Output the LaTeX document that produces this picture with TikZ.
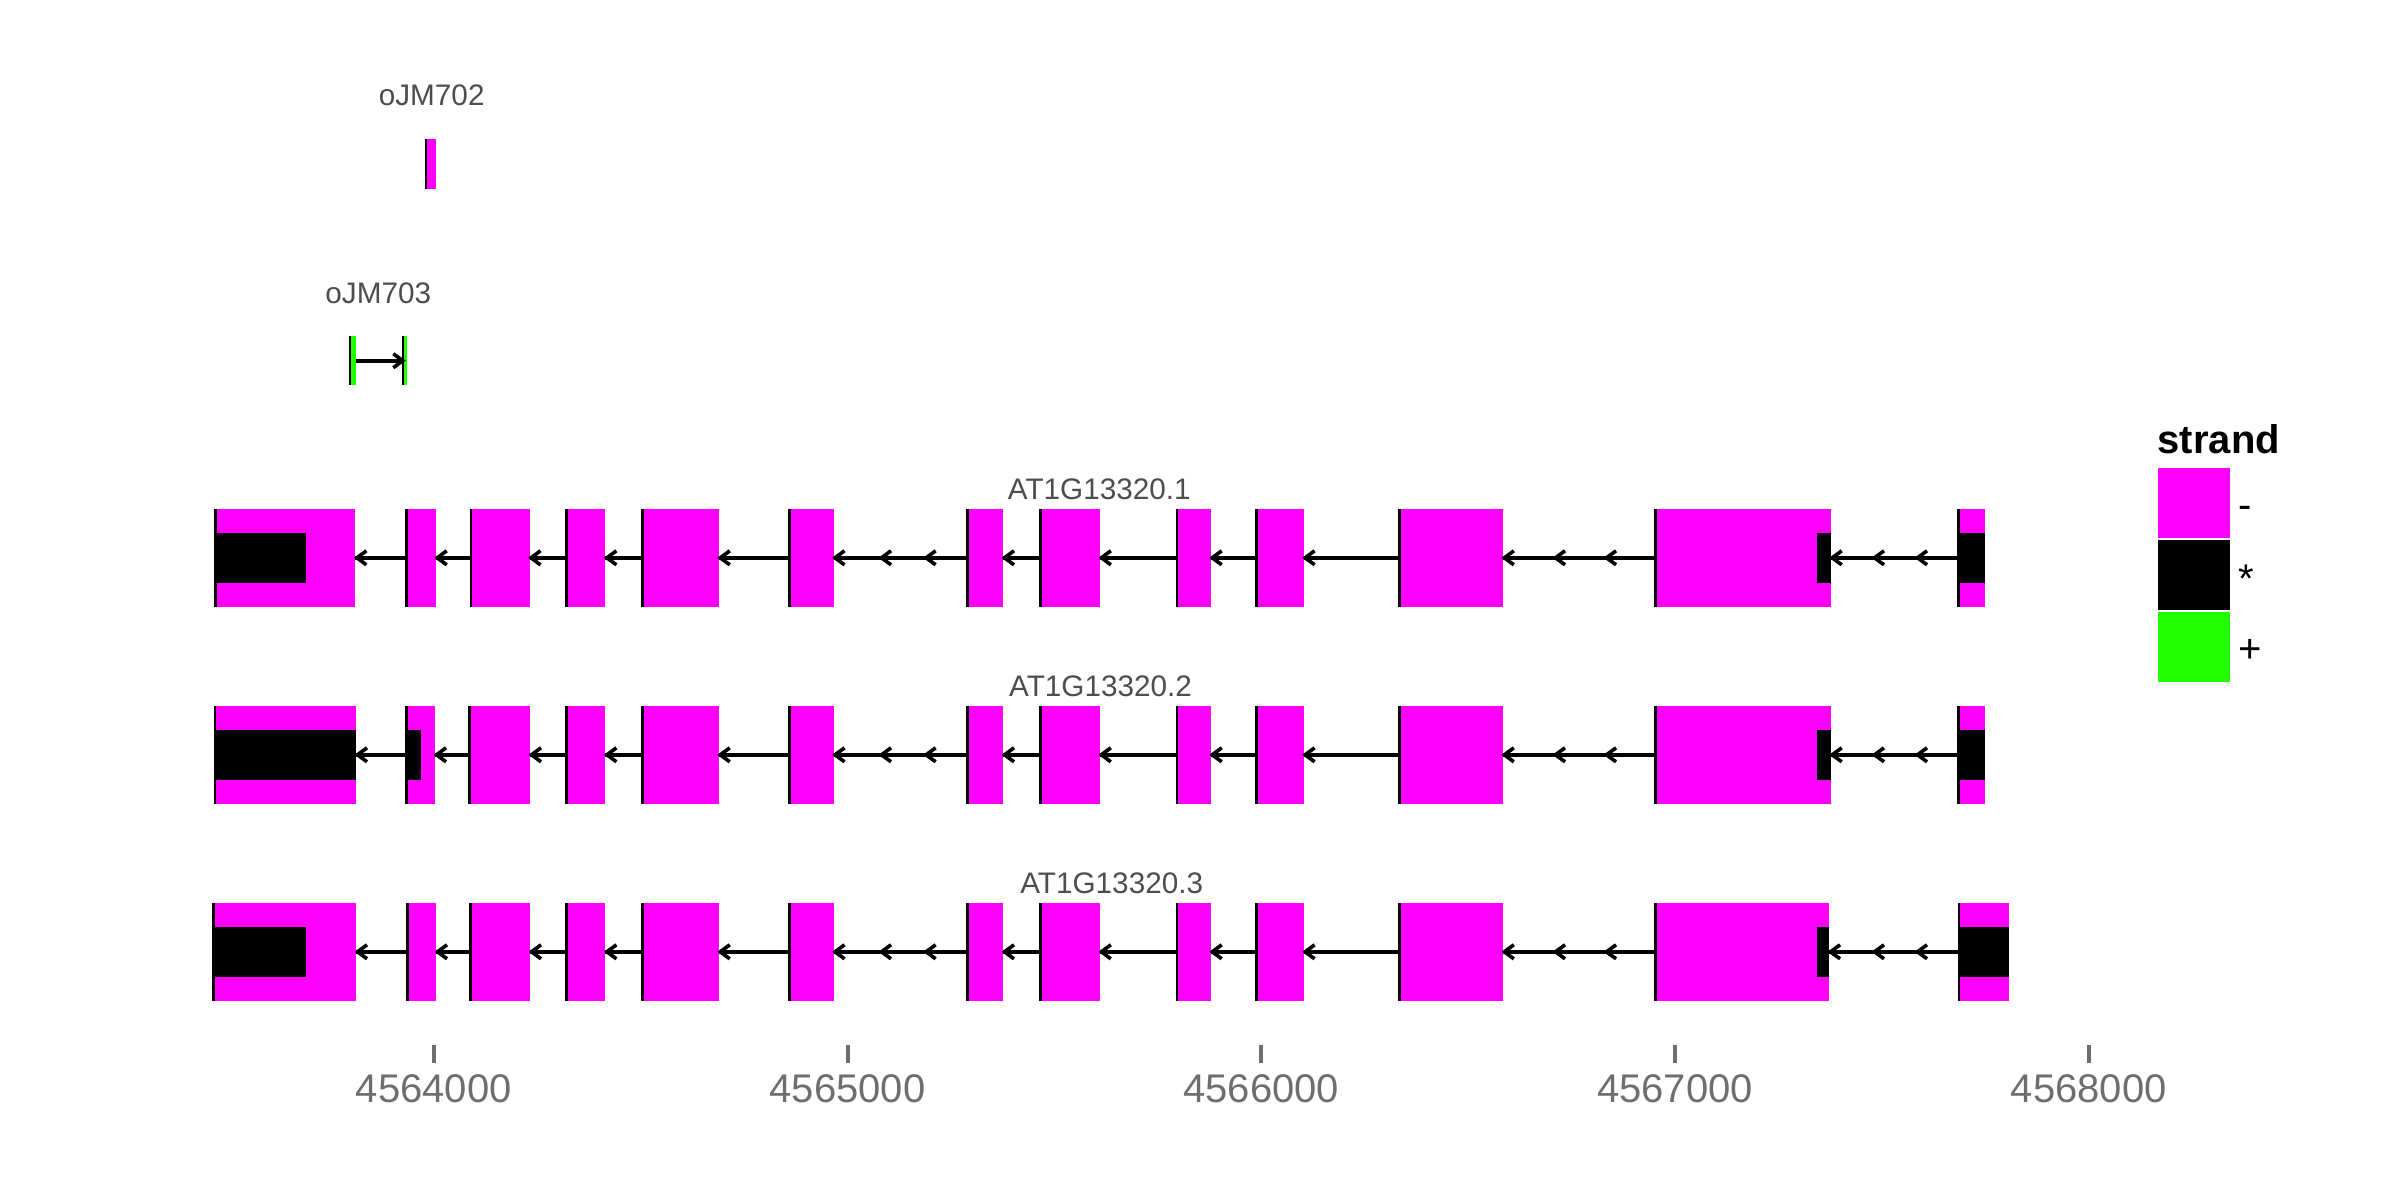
\documentclass[tikz,border=0pt]{standalone}
\usepackage{fontspec}
\setmainfont{Liberation Sans}
\definecolor{mag}{RGB}{255,0,255}
\definecolor{grn}{RGB}{34,255,0}
\definecolor{labgray}{RGB}{77,77,77}
\definecolor{axgray}{RGB}{110,110,110}
\tikzset{
  exon/.style={fill=mag, draw=none, inner sep=0pt, outer sep=0pt},
  cds/.style={fill=black, draw=none, inner sep=0pt, outer sep=0pt},
  pexon/.style={fill=grn, draw=none, inner sep=0pt, outer sep=0pt},
  intron/.style={line width=4pt, black},
  arrowhd/.style={line width=3.6pt, black, line join=miter, miter limit=2.5},
  edgeline/.style={line width=2.6pt, black},
  genelab/.style={font=\fontsize{29.7}{32}\selectfont, text=labgray, inner sep=0pt},
  axlab/.style={font=\fontsize{40}{44}\selectfont, text=axgray, inner sep=0pt},
  axtick/.style={line width=4pt, axgray},
  legtitle/.style={font=\bfseries\fontsize{40}{44}\selectfont, text=black, inner sep=0pt},
  leglab/.style={font=\fontsize{40}{44}\selectfont, text=black, inner sep=0pt},
  keybox/.style={draw=none, inner sep=0pt, outer sep=0pt, minimum width=72.3pt, minimum height=70pt}
}
% name, left, right, y-centre, height, style
\newcommand\mkbox[6]{%
  \pgfmathsetmacro\mkw{#3-#2}%
  \node[#6, minimum width=\mkw pt, minimum height=#5 pt, anchor=west] (#1) at (#2,#4) {};}
% open arrow heads with tip at a named coordinate
\newcommand\ahl[1]{\draw[arrowhd] ([shift={(11,-7)}]#1) -- ([xshift=1.5]#1) -- ([shift={(11,7)}]#1);}
\newcommand\ahr[1]{\draw[arrowhd] ([shift={(-11,-7)}]#1) -- ([xshift=-1.5]#1) -- ([shift={(-11,7)}]#1);}
% track number, y centre, exon list
\newcommand\drawtrack[3]{%
  \foreach \l/\r [count=\i] in {#3} {%
    \pgfmathsetmacro\mkw{\r-\l}%
    \node[exon, minimum width=\mkw pt, minimum height=97.7pt, anchor=west] (t#1e\i) at (\l,#2) {};
  }%
  \foreach \i [evaluate=\i as \j using int(\i+1)] in {1,...,12} {%
    \draw[intron] (t#1e\i.east) -- (t#1e\j.west);
  }%
}
\newcommand\trackmarks[2]{%
  \foreach \i in {1,...,12} {\ahl{t#1e\i.east}}%
  \foreach \x [count=\k] in {880,924.6,1554,1605,1873,1916} {%
    \coordinate (t#1a\k) at (\x,#2);
    \ahl{t#1a\k}
  }%
  \foreach \i in {1,...,13} {\draw[edgeline] (t#1e\i.north west) -- (t#1e\i.south west);}%
}
\begin{document}
\begin{tikzpicture}[x=1pt,y=-1pt]
\useasboundingbox (0,0) rectangle (2400,1200);

% ---------- oJM702 ----------
\node[genelab] (l702) at (431.7,95.5) {oJM702};
\mkbox{o702}{426}{436}{163.9}{49.7}{exon}
\draw[edgeline] (o702.north west) -- (o702.south west);

% ---------- oJM703 ----------
\node[genelab] (l703) at (378.3,293) {oJM703};
\mkbox{o703a}{349.8}{356}{360.7}{49.3}{pexon}
\mkbox{o703b}{402.8}{407}{360.7}{49.3}{pexon}
\draw[intron] (o703a.east) -- (o703b.west);
\coordinate (o703tip) at ([xshift=1.5]o703b.west);
\ahr{o703tip}
\draw[edgeline] (o703a.north west) -- (o703a.south west);
\draw[edgeline] (o703b.north west) -- (o703b.south west);

% ---------- transcripts ----------
\drawtrack{1}{557.8}{215.6/355.4, 406.3/435.7, 471/529.5, 566.5/605.4, 642.4/718.75, 789.7/833.5, 967.5/1003, 1040.5/1099.8, 1176.8/1210.7, 1256.6/1303.6, 1399.2/1502.8, 1655.5/1830.7, 1958.7/1985}
\drawtrack{2}{754.8}{215/356, 406.7/435, 469.3/530, 566.5/605.4, 642.4/718.75, 789.7/833.5, 967.5/1003, 1040.5/1099.8, 1176.8/1210.7, 1256.6/1303.6, 1399.2/1502.8, 1655.5/1830.7, 1958.7/1985}
\drawtrack{3}{951.8}{213.3/356, 407.3/436, 470.7/530, 566.5/605.4, 642.4/718.75, 789.7/833.5, 967.5/1003, 1040.5/1099.8, 1176.8/1210.7, 1256.6/1303.6, 1399.2/1502.8, 1655.5/1829, 1959/2009}

% coding parts
\mkbox{t1c1}{215.6}{305.8}{557.8}{49.7}{cds}
\mkbox{t1c2}{1817.3}{1830.7}{557.8}{49.7}{cds}
\mkbox{t1c3}{1958.7}{1985}{557.8}{49.7}{cds}
\mkbox{t2c1}{215}{356}{754.8}{49.7}{cds}
\mkbox{t2c2}{406.7}{421}{754.8}{49.7}{cds}
\mkbox{t2c3}{1817.3}{1830.7}{754.8}{49.7}{cds}
\mkbox{t2c4}{1958.7}{1985}{754.8}{49.7}{cds}
\mkbox{t3c1}{213.3}{306}{951.8}{49.7}{cds}
\mkbox{t3c2}{1817.3}{1829}{951.8}{49.7}{cds}
\mkbox{t3c3}{1959}{2009}{951.8}{49.7}{cds}

\trackmarks{1}{557.8}
\trackmarks{2}{754.8}
\trackmarks{3}{951.8}

\node[genelab] (g1) at (1099.3,489) {AT1G13320.1};
\node[genelab] (g2) at (1100.5,686.3) {AT1G13320.2};
\node[genelab] (g3) at (1111.7,883) {AT1G13320.3};

% ---------- axis ----------
\foreach \x/\v in {433.75/4564000, 847.5/4565000, 1261.25/4566000, 1675/4567000, 2088.75/4568000} {
  \coordinate (tk\v) at (\x,1045);
  \draw[axtick] (tk\v) -- ++(0,18.3);
  \node[axlab] (ax\v) at (\x,1088.5) {\v};
}

% ---------- legend ----------
\node[legtitle, anchor=base west] (legt) at (2157.5,453.3) {strand};
\node[keybox, fill=mag, anchor=north west] (k1) at (2157.7,467.7) {};
\node[keybox, fill=black, anchor=north west] (k2) at (2157.7,540) {};
\node[keybox, fill=grn, anchor=north west] (k3) at (2157.7,612) {};
\node[leglab, anchor=base west] (kl1) at (2238.5,518.5) {-};
\node[leglab, anchor=base west] (kl2) at (2238.5,592) {*};
\node[leglab, anchor=base west] (kl3) at (2238.5,662.7) {+};
\end{tikzpicture}
\end{document}
